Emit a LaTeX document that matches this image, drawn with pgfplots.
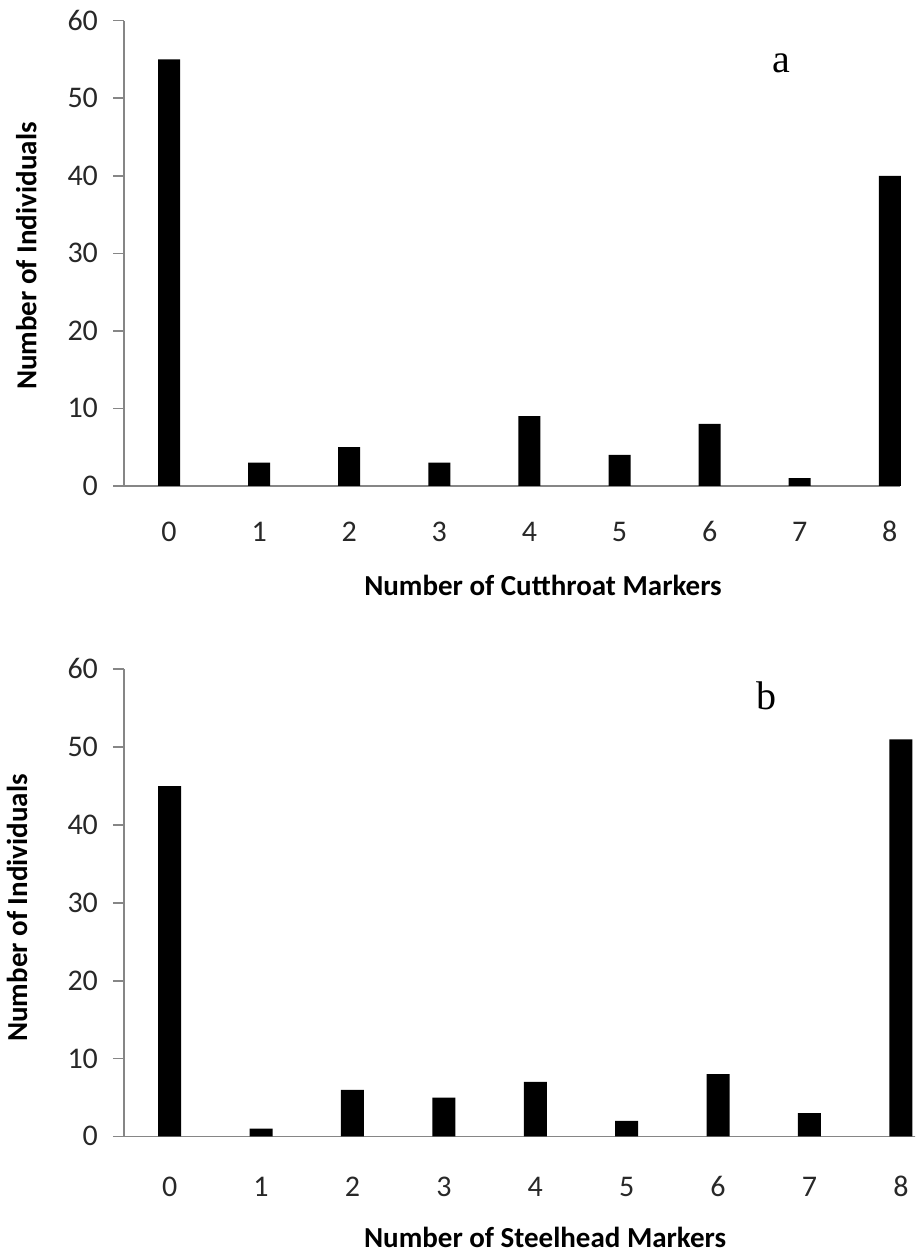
\documentclass[border=0pt]{standalone}
\usepackage{fontspec}
\setmainfont{Carlito}
\newfontfamily\panelfont{Liberation Serif}
\usepackage{pgfplots}
\pgfplotsset{compat=1.18}
\definecolor{axisgray}{RGB}{134,134,134}
\definecolor{labelgray}{RGB}{40,40,40}

\pgfplotsset{
  markerhist/.style={
    scale only axis,
    ybar,
    clip=false,
    ymin=0, ymax=60,
    ytick={0,10,...,60},
    xtick={0,...,8},
    axis x line*=bottom,
    axis y line*=left,
    axis line style={draw=axisgray, line width=0.8pt, -},
    tick align=outside,
    major tick length=5.5pt,
    ytick style={draw=axisgray, line width=0.8pt},
    xtick style={draw=none},
    tick label style={font=\fontsize{15}{18}\selectfont, text=labelgray,
      text height=9.5pt, text depth=0pt},
    /pgf/number format/assume math mode=true,
    yticklabel style={anchor=east, xshift=-4pt},
    every axis x label/.style={anchor=center,
      font=\fontsize{14.5}{17}\selectfont\bfseries},
    every axis y label/.style={anchor=center, rotate=90,
      font=\fontsize{14.5}{17}\selectfont\bfseries},
  }
}

\begin{document}
\begin{tikzpicture}
\useasboundingbox (0,0) rectangle (457.5pt,628.5pt);
\clip (0,0) rectangle (457.5pt,628.5pt);

% (a) cutthroat markers
\begin{axis}[markerhist,
  at={(62pt,385.5pt)}, anchor=south west,
  width=388pt, height=232.65pt,
  xmin=-0.5, xmax=8.113,
  bar width=11pt,
  xticklabel style={anchor=north, yshift=-9pt},
  xlabel={Number of Cutthroat Markers},
  ylabel={Number of Individuals},
  x label style={at={(axis description cs:0.540,-0.213)}},
  y label style={at={(axis description cs:-0.126,0.494)}},
]
\addplot[fill=black, draw=none] coordinates {
  (0,55) (1,3) (2,5) (3,3) (4,9) (5,4) (6,8) (7,1) (8,40)
};
\node[font=\panelfont\fontsize{20}{24}\selectfont] at (axis cs:6.80,54.5) {a};
\end{axis}

% (b) steelhead markers
\begin{axis}[markerhist,
  at={(62pt,60.25pt)}, anchor=south west,
  width=411.3pt, height=233.6pt,
  xmin=-0.5, xmax=8.5,
  bar width=11.5pt,
  xticklabel style={anchor=north, yshift=-11.5pt},
  xlabel={Number of Steelhead Markers},
  ylabel={Number of Individuals},
  x label style={at={(axis description cs:0.512,-0.217)}},
  y label style={at={(axis description cs:-0.130,0.489)}},
]
\addplot[fill=black, draw=none] coordinates {
  (0,45) (1,1) (2,6) (3,5) (4,7) (5,2) (6,8) (7,3) (8,51)
};
\node[font=\panelfont\fontsize{20}{24}\selectfont] at (axis cs:6.53,56.6) {b};
\end{axis}
\end{tikzpicture}
\end{document}
